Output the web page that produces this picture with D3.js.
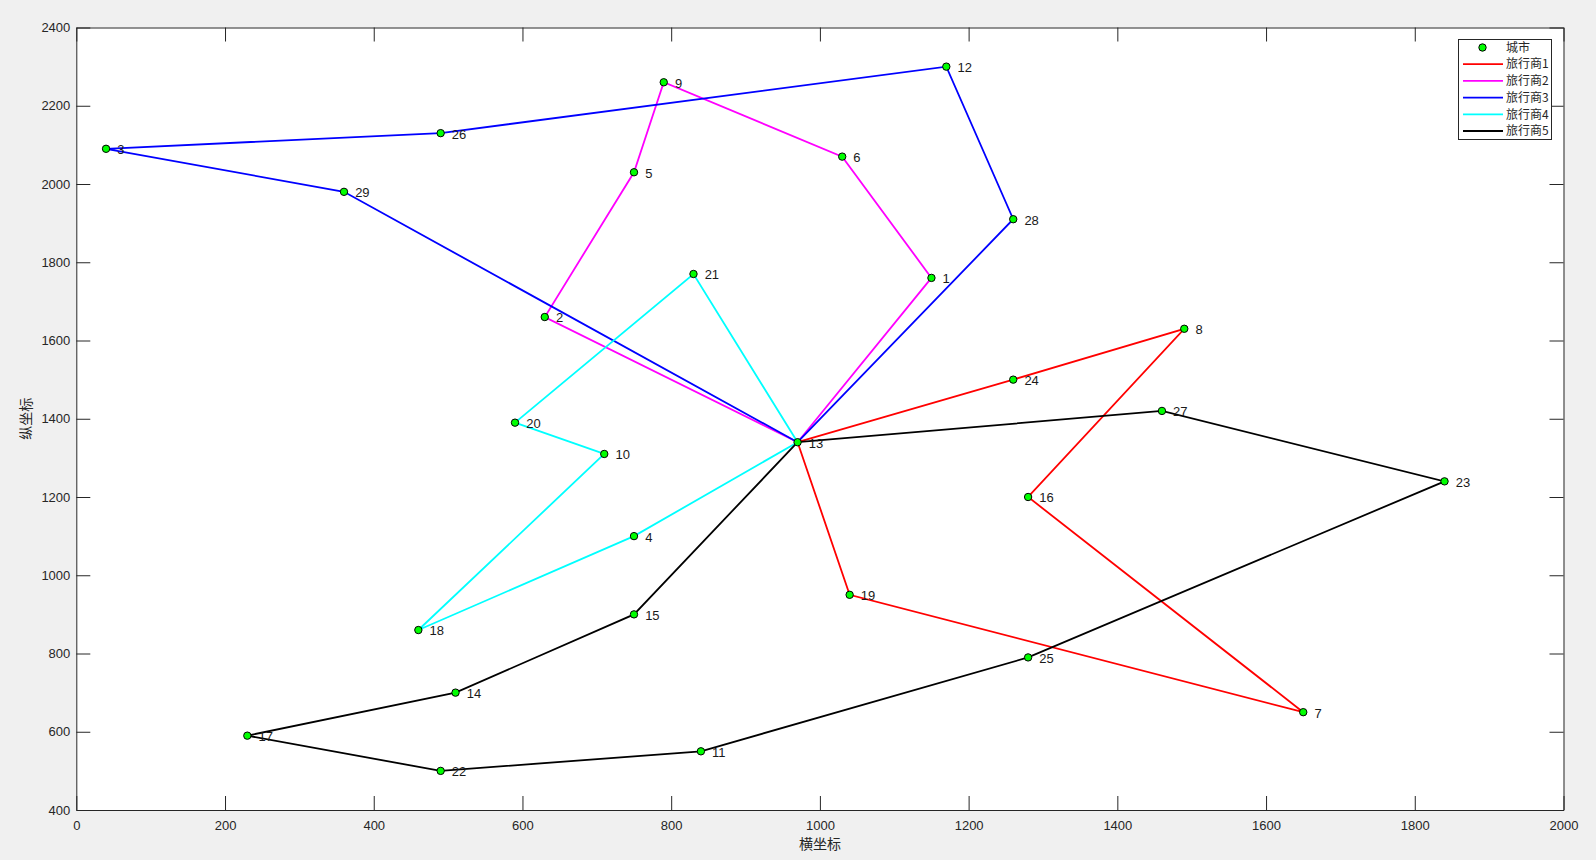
<!DOCTYPE html>
<html><head><meta charset="utf-8">
<script src="https://cdn.jsdelivr.net/npm/d3@7"></script>
<style>
body{margin:0;background:#f0f0f0;}
svg{display:block;}
</style></head>
<body>
<svg id="chart" width="1596" height="860"></svg>
<script>
// ---- data ----
const cityX = [1150, 630, 40, 750, 750, 1030, 1650, 1490, 790, 710, 840, 1170, 970, 510, 750, 1280, 230, 460, 1040, 590, 830, 490, 1840, 1260, 1280, 490, 1460, 1260, 360];
const cityY = [1760, 1660, 2090, 1100, 2030, 2070, 650, 1630, 2260, 1310, 550, 2300, 1340, 700, 900, 1200, 590, 860, 950, 1390, 1770, 500, 1240, 1500, 790, 2130, 1420, 1910, 1980];
const route1 = [13, 24, 8, 16, 7, 19, 13];
const route2 = [13, 1, 6, 9, 5, 2, 13];
const route3 = [13, 28, 12, 26, 3, 29, 13];
const route4 = [13, 21, 20, 10, 18, 4, 13];
const route5 = [13, 27, 23, 25, 11, 22, 17, 14, 15, 13];
const routes = [route1, route2, route3, route4, route5];
const routeNames = ["旅行商1", "旅行商2", "旅行商3", "旅行商4", "旅行商5"];
const routeColors = ["#ff0000", "#ff00ff", "#0000ff", "#00ffff", "#000000"];
const xTicks = [0, 200, 400, 600, 800, 1000, 1200, 1400, 1600, 1800, 2000];
const yTicks = [400, 600, 800, 1000, 1200, 1400, 1600, 1800, 2000, 2200, 2400];
const xLabel = "横坐标", yLabel = "纵坐标", cityLegend = "城市";

// ---- layout ----
const L = 76.3, R = 1563.5, T = 27.5, B = 810;
const svg = d3.select("#chart");
const x = d3.scaleLinear().domain([0, 2000]).range([L, R]);
const y = d3.scaleLinear().domain([400, 2400]).range([B, T]);
const numFont = "Liberation Sans, Arial, Helvetica, sans-serif";
const cjkFont = "Noto Sans CJK SC, sans-serif";

svg.append("rect").attr("x", L).attr("y", T).attr("width", R - L).attr("height", B - T).attr("fill", "#fff");

const tk = 14;
function styleAxis(g) {
  g.selectAll("path").attr("stroke", "#262626").attr("stroke-width", 1);
  g.selectAll("line").attr("stroke", "#262626").attr("stroke-width", 1);
  g.selectAll("text").attr("fill", "#262626").attr("font-size", 13).attr("font-family", numFont);
}
svg.append("g").attr("transform", `translate(0,${B})`)
  .call(d3.axisBottom(x).tickValues(xTicks).tickSizeInner(-tk).tickSizeOuter(0).tickPadding(11).tickFormat(d3.format("d")))
  .call(styleAxis);
svg.append("g").attr("transform", `translate(0,${T})`)
  .call(d3.axisTop(x).tickValues(xTicks).tickSizeInner(-tk).tickSizeOuter(0).tickFormat(""))
  .call(styleAxis);
svg.append("g").attr("transform", `translate(${L},0)`)
  .call(d3.axisLeft(y).tickValues(yTicks).tickSizeInner(-tk).tickSizeOuter(0).tickPadding(6).tickFormat(d3.format("d")))
  .call(styleAxis);
svg.append("g").attr("transform", `translate(${R},0)`)
  .call(d3.axisRight(y).tickValues(yTicks).tickSizeInner(-tk).tickSizeOuter(0).tickFormat(""))
  .call(styleAxis);

// axis labels
svg.append("text").attr("x", (L + R) / 2).attr("y", 845).attr("text-anchor", "middle").attr("dominant-baseline", "middle")
  .attr("font-family", cjkFont).attr("font-size", 14).attr("fill", "#262626").text(xLabel);
svg.append("text").attr("transform", `translate(27,${(T + B) / 2}) rotate(-90)`).attr("text-anchor", "middle").attr("dominant-baseline", "middle")
  .attr("font-family", cjkFont).attr("font-size", 14).attr("fill", "#262626").text(yLabel);

// routes
const line = d3.line().x(i => x(cityX[i - 1])).y(i => y(cityY[i - 1]));
const plot = svg.append("g");
routes.forEach((r, k) => {
  plot.append("path").attr("d", line(r)).attr("fill", "none").attr("stroke", routeColors[k]).attr("stroke-width", 1.8);
});

// cities
const idx = d3.range(cityX.length);
plot.selectAll("circle.city").data(idx).join("circle").attr("class", "city")
  .attr("cx", i => x(cityX[i])).attr("cy", i => y(cityY[i])).attr("r", 3.7)
  .attr("fill", "#00ff00").attr("stroke", "#000").attr("stroke-width", 1);
plot.selectAll("text.lab").data(idx).join("text").attr("class", "lab")
  .attr("x", i => x(cityX[i] + 15)).attr("y", i => y(cityY[i]) + 2)
  .attr("dominant-baseline", "middle").attr("font-family", numFont).attr("font-size", 13).attr("fill", "#1a1a1a")
  .text(i => i + 1);

// legend
const lg = svg.append("g");
lg.append("rect").attr("x", 1458.5).attr("y", 39.5).attr("width", 93).attr("height", 100)
  .attr("fill", "#fff").attr("stroke", "#262626").attr("stroke-width", 1);
const rowY = [47.5, 64.2, 80.9, 97.6, 114.3, 131];
lg.append("circle").attr("cx", 1482.5).attr("cy", rowY[0]).attr("r", 3.7).attr("fill", "#00ff00").attr("stroke", "#000");
lg.append("text").attr("x", 1506).attr("y", rowY[0] + 1).attr("dominant-baseline", "middle")
  .attr("font-family", cjkFont).attr("font-size", 12).attr("fill", "#262626").text(cityLegend);
routeNames.forEach((n, k) => {
  const yy = rowY[k + 1];
  lg.append("line").attr("x1", 1463).attr("x2", 1503).attr("y1", yy).attr("y2", yy).attr("stroke", routeColors[k]).attr("stroke-width", 1.8);
  lg.append("text").attr("x", 1506).attr("y", yy + 1).attr("dominant-baseline", "middle")
    .attr("font-family", cjkFont).attr("font-size", 12).attr("fill", "#262626").text(n);
});
</script>
</body></html>
